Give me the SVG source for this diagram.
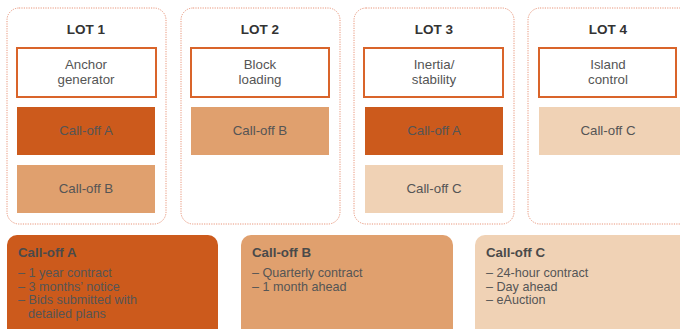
<svg xmlns="http://www.w3.org/2000/svg" width="680" height="329" viewBox="0 0 680 329">
<style>
.lot{fill:#fff;stroke:#e8957a;stroke-width:1;stroke-dasharray:1.2 1.2}
.ttl{font-family:"Liberation Sans",Arial,sans-serif;font-size:13.5px;font-weight:bold;fill:#333;text-anchor:middle}
.box{fill:#fff;stroke:#d9642a;stroke-width:2}
.t{font-family:"Liberation Sans",Arial,sans-serif;font-size:13.3px;fill:#555;text-anchor:middle}
.a{fill:#cc5a1c}
.b{fill:#e0a06e}
.c{fill:#f0d2b5}
.h{font-family:"Liberation Sans",Arial,sans-serif;font-size:13.3px;font-weight:bold;fill:#4a4a4a}
.l{font-family:"Liberation Sans",Arial,sans-serif;font-size:12.6px;fill:#555}
</style>
<rect width="680" height="329" fill="#fff"/>
<g id="lot1">
<rect class="lot" x="7" y="8" width="159" height="216" rx="12"/>
<text class="ttl" x="86" y="34">LOT 1</text>
<rect class="box" x="17" y="48" width="139" height="49"/>
<text class="t" x="86" y="69">Anchor</text>
<text class="t" x="86" y="84">generator</text>
<rect class="a" x="17" y="107" width="138" height="48"/>
<text class="t" x="86" y="135">Call-off A</text>
<rect class="b" x="17" y="165" width="138" height="48"/>
<text class="t" x="86" y="193">Call-off B</text>
</g>
<g id="lot2">
<rect class="lot" x="181" y="8" width="159" height="216" rx="12"/>
<text class="ttl" x="260" y="34">LOT 2</text>
<rect class="box" x="191" y="48" width="138" height="49"/>
<text class="t" x="260" y="69">Block</text>
<text class="t" x="260" y="84">loading</text>
<rect class="b" x="191" y="107" width="138" height="48"/>
<text class="t" x="260" y="135">Call-off B</text>
</g>
<g id="lot3">
<rect class="lot" x="354" y="8" width="160" height="216" rx="12"/>
<text class="ttl" x="434" y="34">LOT 3</text>
<rect class="box" x="364" y="48" width="139" height="49"/>
<text class="t" x="434" y="69">Inertia/</text>
<text class="t" x="434" y="84">stability</text>
<rect class="a" x="365" y="107" width="138" height="48"/>
<text class="t" x="434" y="135">Call-off A</text>
<rect class="c" x="365" y="165" width="138" height="48"/>
<text class="t" x="434" y="193">Call-off C</text>
</g>
<g id="lot4">
<rect class="lot" x="528" y="8" width="170" height="216" rx="12"/>
<text class="ttl" x="608" y="34">LOT 4</text>
<rect class="box" x="539" y="48" width="137" height="49"/>
<text class="t" x="608" y="69">Island</text>
<text class="t" x="608" y="84">control</text>
<rect class="c" x="539" y="107" width="141" height="48"/>
<text class="t" x="608" y="135">Call-off C</text>
</g>
<g id="calloffA">
<rect class="a" x="7" y="235" width="211" height="110" rx="10"/>
<text class="h" x="18" y="257">Call-off A</text>
<text class="l" x="18" y="277">– 1 year contract</text>
<text class="l" x="18" y="290.5">– 3 months’ notice</text>
<text class="l" x="18" y="304">– Bids submitted with</text>
<text class="l" x="28" y="317.5">detailed plans</text>
</g>
<g id="calloffB">
<rect class="b" x="241" y="235" width="212" height="110" rx="10"/>
<text class="h" x="252" y="257">Call-off B</text>
<text class="l" x="252" y="277">– Quarterly contract</text>
<text class="l" x="252" y="290.5">– 1 month ahead</text>
</g>
<g id="calloffC">
<rect class="c" x="475" y="235" width="220" height="110" rx="10"/>
<text class="h" x="486" y="257">Call-off C</text>
<text class="l" x="486" y="277">– 24-hour contract</text>
<text class="l" x="486" y="290.5">– Day ahead</text>
<text class="l" x="486" y="304">– eAuction</text>
</g>
<g id="connectors"/>
</svg>
